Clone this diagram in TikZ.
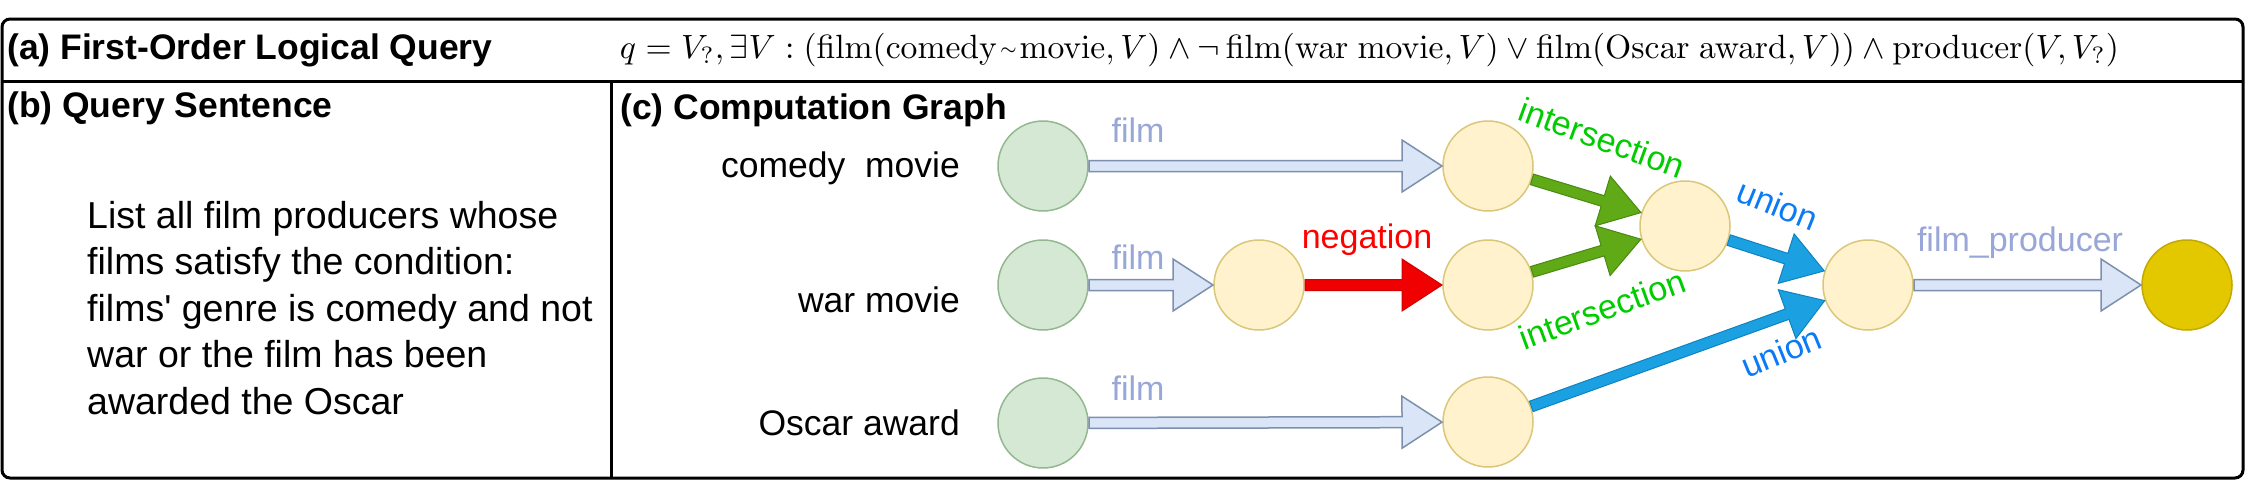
\documentclass[tikz,border=0pt]{standalone}
\usepackage[no-math]{fontspec}
\setmainfont{Liberation Sans}[Ligatures=TeXOff]
\usepackage{graphicx}
\usetikzlibrary{calc}
\definecolor{gfill}{HTML}{D5E8D4}
\definecolor{gdraw}{HTML}{93B88F}
\definecolor{yfill}{HTML}{FFF2CC}
\definecolor{ydraw}{HTML}{D9C77A}
\definecolor{ofill}{HTML}{E3C800}
\definecolor{odraw}{HTML}{C4A800}
\definecolor{afill}{HTML}{DAE6F8}
\definecolor{adraw}{HTML}{7D8FAD}
\definecolor{rfill}{HTML}{F00000}
\definecolor{rdraw}{HTML}{D00000}
\definecolor{grfill}{HTML}{60A917}
\definecolor{grdraw}{HTML}{4A8A12}
\definecolor{bfill}{HTML}{1BA1E2}
\definecolor{bdraw}{HTML}{1082C0}
\definecolor{filmtxt}{HTML}{99A6D8}
\definecolor{inttxt}{HTML}{00CC00}
\definecolor{unitxt}{HTML}{0A7AF5}
\definecolor{negtxt}{HTML}{FF0000}

% block arrow from node #2 to node #3, style #1
\newcommand\blkarrow[3]{%
  \coordinate (ba-a) at ($(#2)!46pt!(#3)$);
  \coordinate (ba-b) at ($(#3)!46pt!(#2)$);
  \coordinate (ba-c) at ($(ba-b)!40pt!(ba-a)$);
  \filldraw[#1] ($(ba-a)!5.5pt!90:(ba-b)$) -- ($(ba-c)!5.5pt!90:(ba-b)$)
    -- ($(ba-c)!26pt!90:(ba-b)$) -- (ba-b) -- ($(ba-c)!26pt!-90:(ba-b)$)
    -- ($(ba-c)!5.5pt!-90:(ba-b)$) -- ($(ba-a)!5.5pt!-90:(ba-b)$) -- cycle;
}

\begin{document}
\begin{tikzpicture}[x=1pt,y=-1pt,
  frame/.style={line width=3pt, draw=black},
  gnode/.style={circle, minimum size=90pt, inner sep=0pt, line width=1.5pt, draw=gdraw, fill=gfill},
  ynode/.style={circle, minimum size=90pt, inner sep=0pt, line width=1.5pt, draw=ydraw, fill=yfill},
  onode/.style={circle, minimum size=90pt, inner sep=0pt, line width=1.5pt, draw=odraw, fill=ofill},
  filmarrow/.style={line width=1.5pt, draw=adraw, fill=afill, line join=miter},
  negarrow/.style={line width=1pt, draw=rdraw, fill=rfill},
  intarrow/.style={line width=1pt, draw=grdraw, fill=grfill},
  uniarrow/.style={line width=1pt, draw=bdraw, fill=bfill},
  ttl/.style={font=\bfseries\fontsize{35.5}{40}\selectfont, anchor=west, inner sep=0pt},
  lbl/.style={font=\fontsize{35.5}{40}\selectfont, anchor=east, inner sep=0pt},
  elbl/.style={font=\fontsize{34}{38}\selectfont, inner sep=0pt},
]
\useasboundingbox (0,0) rectangle (2248,490);
\fill[white] (0,0) rectangle (2248,490);

% frame
\draw[frame, rounded corners=8pt] (2,19) rectangle (2243,478);
\coordinate (hl) at (2,81);
\coordinate (hr) at (2243,81);
\coordinate (vt) at (611,81);
\coordinate (vb) at (611,478);
\draw[frame] (hl) -- (hr);
\draw[frame] (vt) -- (vb);

% titles
\node[ttl] (ta) at (7,50) {(a) First-Order Logical Query};
\node[inner sep=0pt] (formula) at (1369.5,50) {\resizebox{1499pt}{!}{$q = V_{?}, \exists V : (\mathrm{film}(\mathrm{comedy}\mkern1mu\raisebox{0.12em}{$\scriptscriptstyle\sim$}\mkern1mu\mathrm{movie}, V) \land \neg\,\mathrm{film}(\mathrm{war\ movie}, V) \lor \mathrm{film}(\mathrm{Oscar\ award}, V)) \land \mathrm{producer}(V, V_{?})$}};
\node[ttl] (tb) at (7,108) {(b) Query Sentence};
\node[ttl] (tc) at (620,110) {(c) Computation Graph};

\node[anchor=west, align=left, inner sep=0pt, font=\fontsize{37.5}{46.5}\selectfont] (para) at (87,308)
  {List all film producers whose\\films satisfy the condition:\\films' genre is comedy and not\\war or the film has been\\awarded the Oscar};

% entity labels
\node[lbl] (lc) at (960,168) {comedy\ \ movie};
\node[lbl] (lw) at (960,300) {war movie};
\node[lbl] (lo) at (960,423) {Oscar award};

% nodes
\node[gnode] (G1) at (1043,166) {};
\node[gnode] (G2) at (1043,285) {};
\node[gnode] (G3) at (1043,423) {};
\node[ynode] (N1) at (1259,285) {};
\node[ynode] (Y1) at (1488,166) {};
\node[ynode] (Y2) at (1488,285) {};
\node[ynode] (Y3) at (1488,422) {};
\node[ynode] (I) at (1685,226) {};
\node[ynode] (U) at (1868,285) {};
\node[onode] (F) at (2187,285) {};

% arrows
\blkarrow{filmarrow}{G1}{Y1}
\blkarrow{filmarrow}{G2}{N1}
\blkarrow{filmarrow}{G3}{Y3}
\blkarrow{negarrow}{N1}{Y2}
\blkarrow{intarrow}{Y1}{I}
\blkarrow{intarrow}{Y2}{I}
\blkarrow{uniarrow}{I}{U}
\blkarrow{uniarrow}{Y3}{U}
\blkarrow{filmarrow}{U}{F}

% edge labels
\node[elbl, text=filmtxt] (f1) at (1138,130) {film};
\node[elbl, text=filmtxt] (f2) at (1138,257) {film};
\node[elbl, text=filmtxt] (f3) at (1138,388) {film};
\node[elbl, text=negtxt] (neg) at (1367,240) {negation};
\node[elbl, text=filmtxt] (fp) at (2020,243) {film\_producer};
\node[elbl, text=inttxt, rotate=-20] (i1) at (1602,138) {intersection};
\node[elbl, text=inttxt, rotate=20] (i2) at (1602,309) {intersection};
\node[elbl, text=unitxt, rotate=-22] (u1) at (1778,205) {union};
\node[elbl, text=unitxt, rotate=22] (u2) at (1781,352) {union};
\end{tikzpicture}
\end{document}
